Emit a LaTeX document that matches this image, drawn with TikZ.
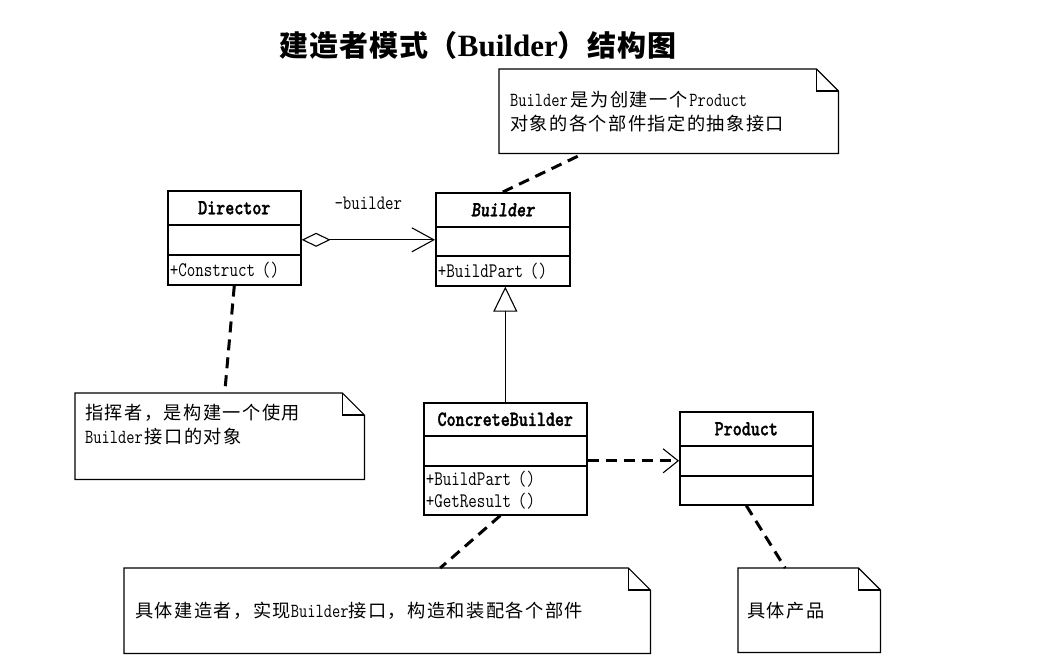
\documentclass[tikz,border=0pt]{standalone}
\usepackage{fontspec}
\setmainfont{Latin Modern Mono}[FakeStretch=0.8]
\newfontfamily\namefont{lmmonolt10-bold.otf}[FakeStretch=0.8, FakeBold=1.5]
\newfontfamily\absfont{lmmonolt10-boldoblique.otf}[FakeStretch=0.8, FakeBold=1.5]
\newfontfamily\cjk[Scale=0.91,LetterSpace=8]{Noto Sans CJK SC}
\newfontfamily\cjktitle[LetterSpace=3]{Noto Sans CJK SC}
\newfontfamily\serifbold{Liberation Serif}
\usetikzlibrary{arrows.meta}

\tikzset{
  part/.style={draw, line width=1.6pt, anchor=north west, inner xsep=2pt, inner ysep=0pt, font=\fontsize{20.7}{22}\selectfont},
  clsname/.style={part, align=center, font=\fontsize{21.5}{22}\namefont},
  absname/.style={clsname, font=\fontsize{21.5}{22}\absfont},
  ops/.style={part, align=left},
  note/.style={anchor=north west, inner xsep=10pt, inner ysep=0pt, align=left, font=\fontsize{20}{24}\selectfont},
  noteline/.style={line width=1.2pt},
  link/.style={line width=3pt, dash pattern=on 11pt off 7pt},
  role/.style={font=\fontsize{20.5}{22}\selectfont},
}
\newcommand{\notefold}[1]{%
  \draw[noteline] (#1.north west) -- ([xshift=-22pt]#1.north east) -- ([yshift=-22pt]#1.north east)
    -- (#1.south east) -- (#1.south west) -- cycle;
  \draw[noteline] ([xshift=-22pt]#1.north east) -- ([xshift=-22pt,yshift=-22pt]#1.north east)
    -- ([yshift=-22pt]#1.north east);
}

\begin{document}
\begin{tikzpicture}[x=1pt, y=-1pt]
  \path[fill=white, use as bounding box] (0,0) rectangle (1056,667);

  \node[font=\fontsize{29}{32}\selectfont] (title) at (478,45)
    {{\cjktitle\bfseries 建造者模式（}{\serifbold\bfseries\fontsize{31}{32}\selectfont Builder}{\cjktitle\bfseries ）结构图}};

  % classes
  \node[clsname, text width=129pt, minimum height=34pt] (dirName) at (167,190) {Director};
  \node[part, text width=129pt, minimum height=30pt] (dirAttr) at (167,224) {};
  \node[ops, text width=129pt, minimum height=30pt] (dirOps) at (167,254) {+Construct ()};

  \node[absname, text width=130pt, minimum height=34pt] (bldName) at (435,192) {Builder};
  \node[part, text width=130pt, minimum height=29pt] (bldAttr) at (435,226) {};
  \node[ops, text width=130pt, minimum height=30pt] (bldOps) at (435,255) {+BuildPart ()};

  \node[clsname, text width=159pt, minimum height=33pt] (cbName) at (423,402) {ConcreteBuilder};
  \node[part, text width=159pt, minimum height=30pt] (cbAttr) at (423,435) {};
  \node[ops, text width=159pt, minimum height=49pt] (cbOps) at (423,465) {+BuildPart ()\\+GetResult ()};

  \node[clsname, text width=129pt, minimum height=34pt] (prodName) at (679,411) {Product};
  \node[part, text width=129pt, minimum height=30pt] (prodAttr) at (679,445) {};
  \node[part, text width=129pt, minimum height=29pt] (prodOps) at (679,475) {};

  % notes
  \node[note, inner xsep=11pt, text width=317pt, minimum height=84pt] (bldNote) at (499,69)
    {Builder\hspace{3pt}{\cjk 是为创建一个}\hspace{2pt}Product\\{\cjk 对象的各个部件指定的抽象接口}};
  \node[note, inner xsep=10pt, text width=269pt, minimum height=86pt] (dirNote) at (75,393)
    {{\cjk 指挥者，是构建一个使用}\\Builder\hspace{2pt}{\cjk 接口的对象}\\~};
  \node[note, inner xsep=11pt, text width=504pt, minimum height=85pt] (cbNote) at (124,568)
    {{\cjk 具体建造者，实现}Builder{\cjk 接口，构造和装配各个部件}};
  \node[note, inner xsep=9pt, text width=124pt, minimum height=84pt] (prodNote) at (738,568)
    {{\cjk 具体产品}};
  \notefold{bldNote}
  \notefold{dirNote}
  \notefold{cbNote}
  \notefold{prodNote}

  % relations
  \draw[line width=1.1pt, {Diamond[open,length=29pt,width=14pt]}-{Straight Barb[length=22pt,width=24pt]}]
    (dirAttr.east) -- node[role, pos=0.5, above=26pt] (roleLabel) {-builder} (dirAttr.east -| bldAttr.west);
  \draw[line width=1.1pt, -{Triangle[open,length=25pt,width=24pt]}] (cbName.north) -- (cbName.north |- bldOps.south);
  \draw[link, -{Straight Barb[length=15pt,width=24pt,line width=1.1pt]}] (prodAttr.west -| cbAttr.east) -- (prodAttr.west);

  \draw[link] (dirOps.south) -- ([xshift=5pt]dirNote.north);
  \draw[link] (bldName.north) -- ([xshift=-85pt]bldNote.south);
  \draw[link] ([xshift=-5pt]cbOps.south) -- ([xshift=53pt]cbNote.north);
  \draw[link] (prodOps.south) -- ([xshift=-24pt]prodNote.north);
\end{tikzpicture}
\end{document}
